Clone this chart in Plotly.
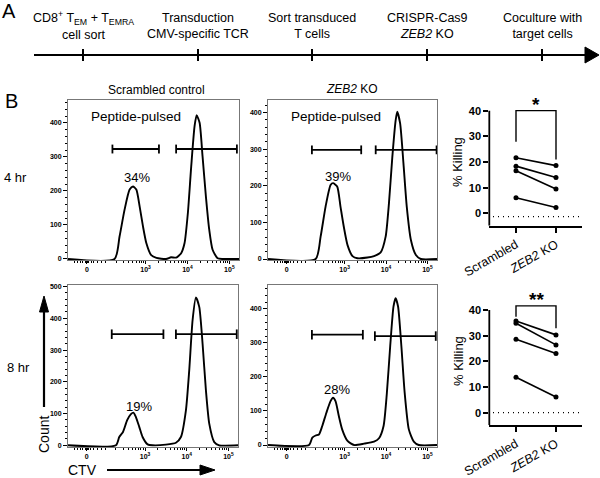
import plotly.graph_objects as go

W, H = 600, 478
def px(x): return x / W
def py(y): return 1 - y / H

FONT = "Liberation Sans, Arial, sans-serif"

# ---------------- Data ----------------
timeline_steps = [
    "CD8<sup>+</sup> T<sub>EM</sub> + T<sub>EMRA</sub><br>cell sort",
    "Transduction<br>CMV-specific TCR",
    "Sort transduced<br>T cells",
    "CRISPR-Cas9<br><i>ZEB2</i> KO",
    "Coculture with<br>target cells",
]

col_titles = ["Scrambled control", "<i>ZEB2</i> KO"]
row_titles = ["4 hr", "8 hr"]

# CTV axis: display position (10^n -> n), "0" sits at 1.6
ctv_tickvals = [1.6, 3, 4, 5]
ctv_ticktext = ["0", "10<sup>3</sup>", "10<sup>4</sup>", "10<sup>5</sup>"]

h4_scr_x = [1.15, 2.26, 2.38, 2.50, 2.62, 2.70, 2.78, 2.86, 2.94, 3.02, 3.13, 3.26, 3.49, 3.61, 3.73, 3.85, 3.93, 4.01, 4.09, 4.17, 4.22, 4.29, 4.36, 4.44, 4.52, 4.60, 4.72, 4.85, 5.23]
h4_scr_y = [0, 0, 66, 145, 204, 213, 204, 154, 95, 46, 12, 3, 0, 5, 4, 17, 46, 135, 272, 390, 422, 400, 302, 184, 86, 27, 2, 0, 0]

h4_zeb_x = [1.15, 2.30, 2.42, 2.54, 2.66, 2.72, 2.82, 2.90, 2.98, 3.07, 3.19, 3.31, 3.55, 3.71, 3.87, 3.99, 4.07, 4.15, 4.23, 4.27, 4.34, 4.42, 4.50, 4.60, 4.72, 4.84, 5.23]
h4_zeb_y = [0, 0, 61, 143, 202, 207, 198, 143, 88, 38, 8, 2, 4, 8, 18, 61, 152, 276, 377, 402, 370, 261, 143, 52, 11, 0, 0]

h8_scr_x = [1.15, 2.30, 2.38, 2.47, 2.57, 2.66, 2.72, 2.78, 2.86, 2.94, 3.06, 3.18, 3.50, 3.74, 3.86, 3.98, 4.06, 4.14, 4.22, 4.30, 4.38, 4.46, 4.54, 4.66, 4.78, 5.23]
h8_scr_y = [0, 0, 26, 42, 79, 98, 103, 89, 58, 26, 3, 0, 2, 8, 26, 110, 237, 394, 466, 436, 320, 173, 68, 10, 0, 0]

h8_zeb_x = [1.15, 2.14, 2.22, 2.30, 2.38, 2.46, 2.56, 2.66, 2.72, 2.78, 2.86, 2.94, 3.07, 3.23, 3.47, 3.71, 3.83, 3.94, 4.02, 4.10, 4.18, 4.23, 4.29, 4.37, 4.45, 4.55, 4.67, 4.79, 5.23]
h8_zeb_y = [0, 0, 22, 28, 31, 56, 95, 129, 139, 129, 85, 46, 12, 0, 4, 10, 20, 56, 153, 290, 407, 431, 407, 290, 153, 46, 10, 0, 0]

# gates: (left_start, left_end, right_start, right_end, y_left, y_right)
gates = [
    (2.21, 3.32, 3.73, 5.18, 323, 323),
    (2.21, 3.40, 3.75, 5.22, 298, 298),
    (2.20, 3.44, 3.74, 5.20, 350, 350),
    (2.21, 3.44, 3.73, 5.20, 324, 320),
]
pct_labels = ["34%", "39%", "19%", "28%"]
pct_pos = [(2.79, 239), (2.84, 225), (2.86, 121), (2.82, 163)]
pulsed_pos = [(2.78, 418), (2.78, 388)]

kill_groups = ["Scrambled", "<i>ZEB2</i> KO"]
kill_4h_scr = [21.7, 18.4, 16.6, 6.1]
kill_4h_zeb = [18.6, 14.0, 9.5, 2.3]
kill_8h_scr = [35.7, 34.8, 28.6, 13.8]
kill_8h_zeb = [30.3, 26.4, 23.0, 6.1]
baseline_4h = -1.3
baseline_8h = 0.0
sig_4h = "*"
sig_8h = "**"
bracket_4h = (27.9, 40.0, 21.0)
bracket_8h = (37.4, 41.6, 32.9)

# ---------------- Figure ----------------
fig = go.Figure()

hist_sets = [(h4_scr_x, h4_scr_y), (h4_zeb_x, h4_zeb_y), (h8_scr_x, h8_scr_y), (h8_zeb_x, h8_zeb_y)]
ax_names = ["", "2", "3", "4"]
cap = [13, 12, 15, 14]
for i, ((hx, hy), g) in enumerate(zip(hist_sets, gates)):
    xa, ya = "x" + ax_names[i], "y" + ax_names[i]
    fig.add_trace(go.Scatter(x=hx, y=hy, mode="lines", xaxis=xa, yaxis=ya,
                             line=dict(color="black", width=1.9, shape="spline", smoothing=0.6),
                             showlegend=False, hoverinfo="skip"))
    a, b, c, d, yl, yr = g
    c_ = cap[i]
    gx = [a, a, None, a, b, None, b, b, None, c, c, None, c, d, None, d, d]
    gy = [yl - c_, yl + c_, None, yl, yl, None, yl - c_, yl + c_, None,
          yr - c_, yr + c_, None, yr, yr, None, yr - c_, yr + c_]
    fig.add_trace(go.Scatter(x=gx, y=gy, mode="lines", xaxis=xa, yaxis=ya,
                             line=dict(color="black", width=1.8),
                             showlegend=False, hoverinfo="skip"))

def ann(**kw):
    kw.setdefault("showarrow", False)
    kw.setdefault("xanchor", "center")
    kw.setdefault("yanchor", "middle")
    fig.add_annotation(**kw)

# killing panels
for j, (scr, zeb, base, br, sig) in enumerate([
        (kill_4h_scr, kill_4h_zeb, baseline_4h, bracket_4h, sig_4h),
        (kill_8h_scr, kill_8h_zeb, baseline_8h, bracket_8h, sig_8h)]):
    xa, ya = "x" + str(5 + j), "y" + str(5 + j)
    for s, z in zip(scr, zeb):
        fig.add_trace(go.Scatter(x=[0, 1], y=[s, z], mode="lines+markers", xaxis=xa, yaxis=ya,
                                 line=dict(color="black", width=1.6),
                                 marker=dict(color="black", size=5),
                                 showlegend=False, hoverinfo="skip"))
    fig.add_trace(go.Scatter(x=[-0.575, 1.6425], y=[base, base], mode="lines", xaxis=xa, yaxis=ya,
                             line=dict(color="black", width=1.2, dash="1px,4px"),
                             showlegend=False, hoverinfo="skip"))
    fig.add_trace(go.Scatter(x=[0, 0, 1, 1], y=[br[0], br[1], br[1], br[2]], mode="lines",
                             xaxis=xa, yaxis=ya, line=dict(color="black", width=1.4),
                             showlegend=False, hoverinfo="skip"))
    ann(x=0.5, y=br[1], xref=xa, yref=ya, text="<b>" + sig + "</b>", yanchor="bottom", yshift=-6,
        font=dict(family=FONT, size=19, color="black"))
    fig.add_shape(type="line", xref=xa + " domain", yref=ya, x0=0, x1=0, y0=-4.8, y1=40,
                  line=dict(color="black", width=1.8))

# ---------------- Axes ----------------
hx_dom = [(68, 239), (268, 437), (68, 238), (268, 437)]
hy_dom = [(100, 260), (100, 260), (285, 447), (285, 447)]
hy_rng = [(-3, 467), (-2.7, 434), (-5.4, 505), (-5.8, 470)]
hy_ticks = [[0, 100, 200, 300, 400], [0, 100, 200, 300, 400],
            [0, 100, 200, 300, 400, 500], [0, 100, 200, 300, 400]]

minor_x = [1.3, 1.38, 1.45, 1.5, 1.56, 1.58, 1.6, 1.62, 1.64, 1.7, 1.76, 1.85, 1.95, 2.05,
           2.3, 2.48, 2.6, 2.7, 2.78, 2.85, 2.9, 2.95,
           3.3, 3.48, 3.6, 3.7, 3.78, 3.85, 3.9, 3.95,
           4.3, 4.48, 4.6, 4.7, 4.78, 4.85, 4.9, 4.95]

layout = dict(width=W, height=H, margin=dict(l=0, r=0, t=0, b=0, autoexpand=False),
              paper_bgcolor="white", plot_bgcolor="white", showlegend=False,
              font=dict(family=FONT, color="black"))

for i in range(4):
    n = ax_names[i]
    x0, x1 = hx_dom[i]
    y0, y1 = hy_dom[i]
    layout["xaxis" + n] = dict(
        domain=[px(x0), px(x1)], range=[1.15, 5.23], anchor="y" + n, automargin=False,
        tickvals=ctv_tickvals, ticktext=ctv_ticktext, ticks="outside", ticklen=3, tickwidth=1.2,
        tickcolor="black", tickfont=dict(size=7, family=FONT, weight="bold", color="black"),
        showline=True, linecolor="#777", linewidth=1, mirror=True, showgrid=False, zeroline=False,
        minor=dict(tickvals=minor_x, ticks="outside", ticklen=2, tickcolor="black", tickwidth=1, showgrid=False))
    layout["yaxis" + n] = dict(
        domain=[py(y1), py(y0)], range=list(hy_rng[i]), anchor="x" + n, automargin=False,
        tickvals=hy_ticks[i], ticks="outside", ticklen=4, tickwidth=1.2, tickcolor="black",
        tickfont=dict(size=7, family=FONT, weight="bold", color="black"),
        showline=True, linecolor="#777", linewidth=1, mirror=True, showgrid=False, zeroline=False,
        minor=dict(dtick=20, ticks="outside", ticklen=2, tickcolor="black", tickwidth=1, showgrid=False))

ky_dom = [(100.4, 225.7), (299.7, 425)]
for j in range(2):
    n = str(5 + j)
    t, b = ky_dom[j]
    layout["xaxis" + n] = dict(
        domain=[px(489.3), px(581.7)], range=[-0.6675, 1.6425], anchor="y" + n, automargin=False,
        tickvals=[0, 1], ticktext=kill_groups, tickangle=-30, ticks="outside", ticklen=5, tickwidth=1.6,
        tickcolor="black", tickfont=dict(size=12.5, family=FONT, color="black"),
        showline=True, linecolor="black", linewidth=1.8, showgrid=False, zeroline=False)
    layout["yaxis" + n] = dict(
        domain=[py(b), py(t)], range=[-4.8, 44], anchor="x" + n, automargin=False,
        tickvals=[0, 10, 20, 30, 40], ticks="outside", ticklen=5, tickwidth=1.6, tickcolor="black",
        tickfont=dict(size=11, family=FONT, weight="bold", color="black"),
        showline=False, showgrid=False, zeroline=False)

fig.update_layout(**layout)

# ---------------- Timeline (panel A) ----------------
step_px = [83, 198, 312, 427, 542]
fig.add_shape(type="line", xref="paper", yref="paper", x0=px(34), x1=px(586), y0=py(55), y1=py(55),
              line=dict(color="black", width=2))
fig.add_shape(type="path", xref="paper", yref="paper",
              path=f"M {px(585)} {py(47)} L {px(599)} {py(55)} L {px(585)} {py(63)} Z",
              fillcolor="black", line=dict(color="black", width=1))
for sx, lab in zip(step_px, timeline_steps):
    fig.add_shape(type="line", xref="paper", yref="paper", x0=px(sx), x1=px(sx), y0=py(49), y1=py(61),
                  line=dict(color="black", width=2))
    ann(x=px(sx), y=py(26), xref="paper", yref="paper", text=lab,
        font=dict(family=FONT, size=12.5, color="black"), align="center")

# panel letters
ann(x=px(9), y=py(11), xref="paper", yref="paper", text="A", font=dict(family=FONT, size=20, color="black"))
ann(x=px(11), y=py(101), xref="paper", yref="paper", text="B", font=dict(family=FONT, size=20, color="black"))

# column / row titles
ann(x=px(156), y=py(90), xref="paper", yref="paper", text=col_titles[0], font=dict(family=FONT, size=12, color="black"))
ann(x=px(352), y=py(89), xref="paper", yref="paper", text=col_titles[1], font=dict(family=FONT, size=12, color="black"))
ann(x=px(15), y=py(177), xref="paper", yref="paper", text=row_titles[0], font=dict(family=FONT, size=13, color="black"))
ann(x=px(18), y=py(367), xref="paper", yref="paper", text=row_titles[1], font=dict(family=FONT, size=13, color="black"))

# in-panel texts
for i in range(4):
    n = ax_names[i]
    ann(x=pct_pos[i][0], y=pct_pos[i][1], xref="x" + n, yref="y" + n, text=pct_labels[i],
        font=dict(family=FONT, size=13, color="black"))
for i in range(2):
    n = ax_names[i]
    ann(x=pulsed_pos[i][0], y=pulsed_pos[i][1], xref="x" + n, yref="y" + n,
        text="Peptide-pulsed", font=dict(family=FONT, size=13.5, color="black"))

# % Killing titles
for yc in [162, 361]:
    ann(x=px(458), y=py(yc), xref="paper", yref="paper", text="% Killing", textangle=-90,
        font=dict(family=FONT, size=13, color="black"))

# Count / CTV arrows
fig.add_shape(type="line", xref="paper", yref="paper", x0=px(44), x1=px(44), y0=py(407), y1=py(310),
              line=dict(color="black", width=2.2))
fig.add_shape(type="path", xref="paper", yref="paper",
              path=f"M {px(39.5)} {py(312)} L {px(44)} {py(296)} L {px(48.5)} {py(312)} Z",
              fillcolor="black", line=dict(color="black", width=1))
ann(x=px(44), y=py(435), xref="paper", yref="paper", text="Count", textangle=-90,
    font=dict(family=FONT, size=14, color="black"))
fig.add_shape(type="line", xref="paper", yref="paper", x0=px(107), x1=px(202), y0=py(470), y1=py(470),
              line=dict(color="black", width=2.2))
fig.add_shape(type="path", xref="paper", yref="paper",
              path=f"M {px(200)} {py(465)} L {px(215)} {py(470)} L {px(200)} {py(475)} Z",
              fillcolor="black", line=dict(color="black", width=1))
ann(x=px(82), y=py(470), xref="paper", yref="paper", text="CTV", font=dict(family=FONT, size=14, color="black"))

fig.write_html("out.html")
